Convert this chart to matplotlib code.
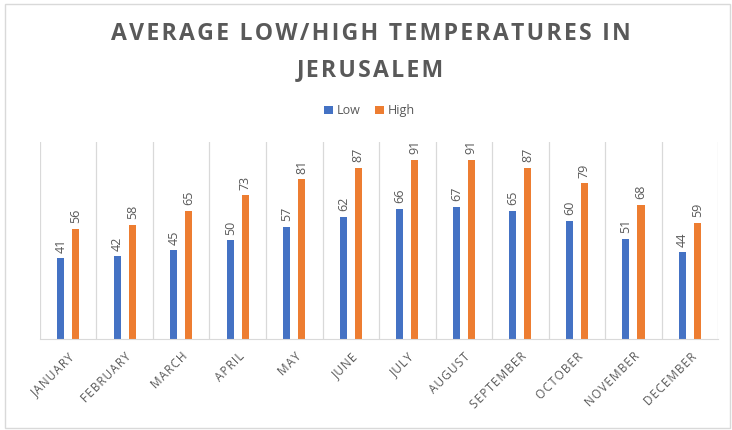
import matplotlib.pyplot as plt
import numpy as np
from matplotlib.patches import Rectangle

months = ['JANUARY', 'FEBRUARY', 'MARCH', 'APRIL', 'MAY', 'JUNE', 'JULY',
          'AUGUST', 'SEPTEMBER', 'OCTOBER', 'NOVEMBER', 'DECEMBER']
low = [41, 42, 45, 50, 57, 62, 66, 67, 65, 60, 51, 44]
high = [56, 58, 65, 73, 81, 87, 91, 91, 87, 79, 68, 59]

blue = '#4472c4'
orange = '#ed7d31'
grey = '#595959'
plt.rcParams['font.family'] = ['Open Sans', 'DejaVu Sans']


def spaced(s, sep='\u200a'):
    # fake letter spacing with hair spaces
    return sep.join(s)


fig = plt.figure(figsize=(7.32, 4.30), dpi=100)
ax = fig.add_axes([0.0546, 0.2116, 0.9264, 0.4582])

x = np.arange(len(months))
w = 0.13
off = 0.133
b1 = ax.bar(x - off, low, w, color=blue, label='Low')
b2 = ax.bar(x + off, high, w, color=orange, label='High')

# value labels, rotated like the original
for bars in (b1, b2):
    for rect in bars:
        ax.annotate(f'{rect.get_height():.0f}',
                    (rect.get_x() + rect.get_width() / 2, rect.get_height()),
                    xytext=(0, 4), textcoords='offset points',
                    ha='center', va='bottom', rotation=90,
                    fontsize=9, color=grey)

ax.set_xlim(-0.5, len(months) - 0.5)
ax.set_ylim(0, 100)
ax.set_yticks([])
ax.set_xticks(x)
ax.set_xticklabels([spaced(m) for m in months], rotation=45, ha='right',
                   rotation_mode='anchor', fontsize=8.5, color=grey)
ax.tick_params(axis='x', length=0, pad=8)
for b in np.arange(-0.5, len(months), 1.0):
    ax.axvline(b, color='#d9d9d9', lw=0.9, zorder=0)
for s in ['top', 'right', 'left']:
    ax.spines[s].set_visible(False)
ax.spines['bottom'].set_color('#d9d9d9')

fig.text(0.506, 0.921, spaced('AVERAGE LOW/HIGH TEMPERATURES IN'), ha='center',
         va='center', fontsize=16.6, fontweight='bold', color=grey)
fig.text(0.506, 0.838, spaced('JERUSALEM'), ha='center', va='center',
         fontsize=16.6, fontweight='bold', color=grey)

fig.legend(loc='center', bbox_to_anchor=(0.505, 0.742), ncol=2, frameon=False,
           fontsize=9, labelcolor=grey, handlelength=0.7, handleheight=0.7,
           handletextpad=0.3, columnspacing=1.2)

fig.patches.append(Rectangle((0.007, 0.005), 0.99, 0.985, transform=fig.transFigure,
                             fill=False, edgecolor='#d9d9d9', lw=1))

fig.savefig('out.png', dpi=100)
